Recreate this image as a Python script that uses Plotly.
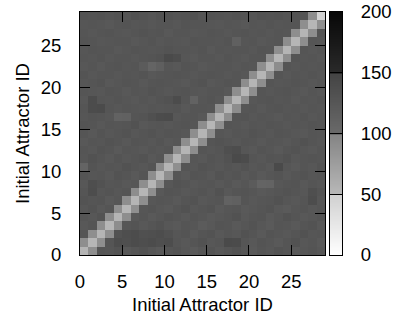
import plotly.graph_objects as go

attractor_ids = list(range(29))
tick_vals = [0, 5, 10, 15, 20, 25]
cbar_ticks = [0, 50, 100, 150, 200]

row00 = [54, 90, 128, 126, 130, 124, 128, 132, 126, 122, 127, 130, 125, 121, 126, 129, 124, 127, 131, 126, 122, 128, 125, 130, 127, 123, 126, 129, 125]
row01 = [90, 52, 89, 127, 138, 136, 140, 137, 139, 135, 138, 128, 124, 127, 131, 125, 128, 142, 141, 127, 124, 129, 126, 122, 128, 131, 125, 127, 123]
row02 = [127, 90, 53, 90, 132, 137, 139, 134, 136, 138, 133, 126, 129, 123, 127, 130, 124, 128, 125, 131, 127, 123, 129, 126, 124, 128, 132, 126, 128]
row03 = [124, 128, 90, 52, 91, 126, 129, 124, 127, 131, 125, 122, 128, 126, 120, 124, 129, 127, 123, 126, 130, 125, 121, 128, 126, 123, 127, 130, 124]
row04 = [128, 125, 130, 91, 53, 90, 124, 127, 123, 126, 130, 127, 124, 129, 126, 122, 125, 128, 131, 124, 127, 129, 123, 126, 131, 127, 124, 126, 129]
row05 = [126, 130, 124, 127, 90, 52, 89, 126, 129, 125, 122, 128, 131, 125, 127, 130, 123, 126, 128, 122, 125, 127, 130, 124, 121, 126, 129, 125, 127]
row06 = [130, 127, 129, 123, 126, 90, 53, 90, 125, 128, 126, 123, 127, 130, 124, 126, 128, 110, 113, 127, 124, 126, 128, 131, 126, 124, 127, 138, 126]
row07 = [127, 138, 126, 129, 125, 128, 91, 52, 90, 124, 129, 127, 124, 126, 129, 125, 131, 124, 127, 129, 126, 123, 125, 128, 130, 127, 125, 136, 129]
row08 = [125, 137, 131, 126, 128, 124, 126, 90, 53, 91, 125, 130, 128, 124, 126, 128, 124, 127, 123, 126, 120, 108, 109, 125, 127, 129, 124, 127, 125]
row09 = [129, 126, 128, 124, 130, 127, 123, 127, 90, 52, 90, 126, 123, 129, 127, 124, 130, 126, 129, 124, 127, 122, 126, 129, 124, 127, 130, 126, 128]
row10 = [108, 129, 125, 128, 126, 131, 128, 125, 129, 91, 53, 89, 127, 125, 130, 127, 125, 129, 126, 130, 125, 127, 124, 142, 126, 123, 127, 125, 130]
row11 = [126, 131, 127, 124, 129, 125, 127, 130, 124, 127, 90, 52, 90, 126, 124, 129, 126, 131, 142, 139, 128, 125, 129, 127, 131, 125, 128, 129, 127]
row12 = [128, 125, 130, 127, 123, 128, 126, 124, 128, 125, 128, 90, 53, 91, 127, 125, 128, 136, 138, 126, 124, 129, 126, 123, 128, 130, 126, 124, 128]
row13 = [124, 128, 126, 130, 127, 124, 129, 128, 125, 129, 124, 126, 90, 52, 90, 128, 130, 127, 125, 129, 127, 124, 128, 126, 124, 127, 131, 128, 125]
row14 = [127, 124, 129, 125, 128, 130, 125, 127, 130, 126, 129, 128, 125, 90, 53, 90, 126, 124, 128, 126, 130, 127, 125, 129, 127, 125, 124, 128, 126]
row15 = [129, 127, 124, 128, 126, 127, 131, 124, 126, 128, 125, 127, 129, 126, 91, 52, 89, 128, 126, 124, 128, 126, 129, 127, 125, 128, 126, 129, 127]
row16 = [126, 129, 127, 125, 110, 112, 127, 129, 134, 140, 141, 125, 127, 128, 124, 90, 53, 90, 127, 129, 125, 128, 126, 124, 128, 126, 129, 125, 128]
row17 = [128, 140, 141, 127, 125, 128, 126, 125, 128, 126, 127, 129, 124, 127, 128, 126, 90, 52, 91, 126, 128, 124, 127, 129, 126, 128, 125, 127, 126]
row18 = [125, 139, 128, 126, 129, 126, 124, 128, 125, 129, 131, 140, 128, 110, 126, 129, 125, 90, 53, 90, 125, 127, 129, 126, 127, 124, 128, 126, 129]
row19 = [128, 126, 125, 129, 127, 124, 128, 126, 130, 127, 125, 127, 129, 126, 125, 127, 128, 124, 90, 52, 90, 128, 125, 127, 129, 126, 124, 128, 125]
row20 = [126, 128, 130, 124, 126, 129, 127, 124, 127, 129, 128, 126, 124, 128, 130, 124, 126, 129, 127, 91, 53, 90, 127, 125, 126, 129, 127, 125, 128]
row21 = [129, 125, 127, 128, 125, 127, 126, 129, 124, 126, 127, 129, 127, 125, 127, 129, 127, 125, 128, 125, 90, 52, 90, 128, 124, 127, 126, 129, 126]
row22 = [125, 128, 124, 127, 129, 126, 128, 120, 108, 114, 126, 124, 129, 127, 124, 126, 128, 127, 125, 128, 126, 90, 53, 91, 127, 125, 128, 126, 127]
row23 = [128, 126, 129, 125, 127, 128, 125, 127, 129, 131, 142, 138, 126, 124, 128, 127, 125, 129, 126, 124, 128, 127, 90, 52, 90, 128, 126, 127, 125]
row24 = [126, 129, 127, 128, 124, 126, 129, 128, 126, 128, 130, 127, 128, 126, 129, 124, 127, 126, 128, 127, 125, 129, 127, 90, 53, 90, 127, 125, 128]
row25 = [129, 127, 125, 126, 128, 127, 124, 126, 129, 125, 127, 126, 125, 129, 127, 128, 126, 129, 113, 126, 127, 124, 126, 128, 91, 52, 90, 128, 126]
row26 = [127, 125, 128, 129, 126, 125, 128, 130, 127, 129, 124, 128, 127, 125, 126, 129, 128, 125, 127, 129, 126, 128, 125, 127, 126, 90, 53, 90, 129]
row27 = [126, 128, 126, 124, 127, 129, 126, 127, 125, 127, 128, 125, 129, 127, 128, 126, 125, 127, 126, 124, 128, 126, 129, 126, 128, 127, 90, 52, 89]
row28 = [131, 130, 132, 129, 131, 128, 133, 130, 128, 131, 132, 129, 130, 133, 128, 131, 130, 129, 132, 130, 128, 131, 130, 132, 129, 131, 128, 90, 47]

z = [row00, row01, row02, row03, row04, row05, row06, row07, row08, row09,
     row10, row11, row12, row13, row14, row15, row16, row17, row18, row19,
     row20, row21, row22, row23, row24, row25, row26, row27, row28]

# grey palette (gnuplot-like colour box with steps at each tick)
colorscale = [
    [0.0, "#ffffff"], [0.25, "#d0d0d0"],
    [0.25, "#b8b8b8"], [0.5, "#848484"],
    [0.5, "#6a6a6a"], [0.75, "#444444"],
    [0.75, "#2a2a2a"], [1.0, "#080808"],
]

FONT = "Liberation Sans, Arial, sans-serif"
FS = 18.5
ZMIN, ZMAX = 0, 200

# layout geometry (pixels)
L, R, T, B = 80, 58, 12, 68
PAPER_W = 400 - L - R
main_dom = [0, 245 / PAPER_W]
cbar_dom = [(329.5 - L) / PAPER_W, 1.0]

fig = go.Figure()

fig.add_trace(go.Heatmap(
    z=z, x0=0.5, dx=1, y0=0.5, dy=1,
    zmin=ZMIN, zmax=ZMAX, colorscale=colorscale, showscale=False,
    xaxis="x", yaxis="y",
))

# colour box drawn as its own small heatmap on a value axis
fig.add_trace(go.Heatmap(
    z=[[v, v] for v in cbar_ticks], x=[0, 1], y=cbar_ticks,
    zmin=ZMIN, zmax=ZMAX, colorscale=colorscale, showscale=False,
    zsmooth="best", hoverinfo="skip",
    xaxis="x2", yaxis="y2",
))

axis_common = dict(
    range=[0, 29], tickvals=tick_vals, ticks="inside", ticklen=10,
    tickwidth=1, tickcolor="black", showline=True, linecolor="black",
    linewidth=1, mirror="ticks", showgrid=False, zeroline=False,
    automargin=False,
    tickfont=dict(family=FONT, size=FS, color="black"),
)

fig.update_layout(
    width=400, height=323,
    margin=dict(l=L, r=R, t=T, b=B),
    paper_bgcolor="white", plot_bgcolor="white",
    font=dict(family=FONT, size=FS, color="black"),
    xaxis=dict(**axis_common, domain=main_dom, anchor="y", ticklabelstandoff=10,
               title=dict(text="Initial Attractor ID", standoff=6,
                          font=dict(family=FONT, size=FS, color="black"))),
    yaxis=dict(**axis_common, domain=[0, 1], anchor="x", ticklabelstandoff=14,
               title=dict(text="Initial Attractor ID", standoff=6,
                          font=dict(family=FONT, size=FS, color="black"))),
    xaxis2=dict(domain=cbar_dom, anchor="y2", range=[0, 1],
                showticklabels=False, ticks="", showgrid=False, zeroline=False,
                showline=True, linecolor="black", linewidth=1, mirror=True,
                automargin=False, fixedrange=True),
    yaxis2=dict(domain=[0, 1], anchor="x2", side="right", range=[ZMIN, ZMAX],
                tickvals=cbar_ticks, ticks="inside", ticklen=12, tickwidth=1,
                tickcolor="black", showline=True, linecolor="black",
                linewidth=1, mirror="ticks", showgrid=False, zeroline=False,
                automargin=False, fixedrange=True, ticklabelstandoff=14,
                tickfont=dict(family=FONT, size=FS, color="black")),
)

fig.write_html("out.html", config={"displayModeBar": False},
               post_script="document.body.style.margin='0';")
